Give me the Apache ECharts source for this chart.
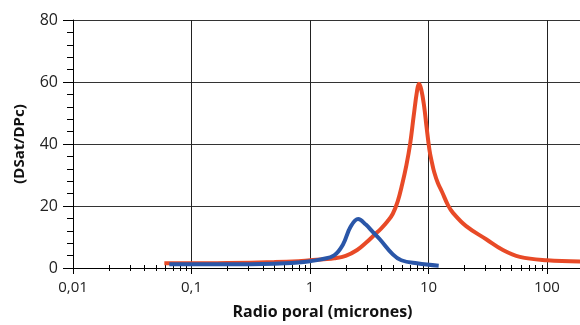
<!DOCTYPE html>
<html>
<head>
<meta charset="utf-8">
<script src="https://cdn.jsdelivr.net/npm/echarts@6/dist/echarts.min.js"></script>
<style>
html,body{margin:0;padding:0;background:#fff;}
#c{width:580px;height:325px;}
</style>
</head>
<body>
<div id="c"></div>
<script>
// Red series (radio poral in micrones, DSat/DPc)
const redX = [0.059, 0.1, 0.2, 0.5, 0.8, 1.0, 1.3, 1.6, 2.0, 2.5, 3.0, 3.5, 4.0, 4.5, 5.0, 5.5, 6.0, 6.5, 7.0, 7.5, 8.0, 8.3, 8.7, 9.2, 9.6, 10.2, 10.7, 11.2, 12.0, 13.0, 14.6, 16.1, 20.8, 30.9, 42.5, 59, 100, 190];
const redY = [1.5, 1.5, 1.6, 1.9, 2.2, 2.5, 2.8, 3.1, 3.9, 5.8, 8.3, 10.7, 12.8, 15.0, 17.5, 21.5, 27.0, 33.0, 40.0, 49.0, 57.0, 59.4, 57.5, 52.0, 46.0, 38.0, 34.0, 30.8, 27.4, 24.6, 20.3, 17.8, 13.5, 9.2, 5.8, 3.6, 2.5, 2.1];
// Blue series
const blueX = [0.065, 0.1, 0.2, 0.5, 0.8, 1.0, 1.24, 1.6, 1.9, 2.2, 2.55, 2.96, 3.4, 3.9, 5.0, 5.9, 8.0, 12.2];
const blueY = [1.2, 1.2, 1.2, 1.4, 1.8, 2.2, 2.8, 4.1, 7.6, 13.3, 15.8, 14.0, 11.6, 9.2, 4.4, 2.5, 1.5, 0.7];
// Axes
const xMin = 0.01, xMax = 190;
const yTicks = [0, 20, 40, 60, 80];
const minorXTicks = [0.02,0.03,0.04,0.05,0.06,0.07,0.08,0.09, 0.2,0.3,0.4,0.5,0.6,0.7,0.8,0.9, 2,3,4,5,6,7,8,9, 20,30,40,50,60,70,80,90];

const zip = (xs, ys) => xs.map((x, i) => [x, ys[i]]);
const FONT = 'Open Sans';

const chart = echarts.init(document.getElementById('c'), null, {renderer: 'canvas'});
chart.setOption({
  animation: false,
  backgroundColor: '#fff',
  grid: {left: 73, right: 0, top: 20, bottom: 56, containLabel: false},
  xAxis: {
    type: 'log', logBase: 10, min: xMin, max: xMax,
    name: 'Radio poral (micrones)', nameLocation: 'middle', nameGap: 36,
    nameTextStyle: {fontFamily: FONT, fontWeight: 'bold', fontSize: 16, color: '#111', padding: [0, 8, 0, 0]},
    axisLine: {show: true, lineStyle: {color: '#000', width: 1}},
    axisTick: {show: true, length: 6, lineStyle: {color: '#000'}},
    axisLabel: {
      fontFamily: FONT, fontSize: 15, color: '#222', margin: 12, showMaxLabel: false,
      formatter: v => {
        const l = Math.log10(v);
        if (Math.abs(l - Math.round(l)) > 1e-6) return '';
        return String(Number(v.toPrecision(6))).replace('.', ',');
      }
    },
    splitLine: {show: true, lineStyle: {color: '#222', width: 1}},
    minorTick: {show: false}
  },
  yAxis: {
    type: 'value', min: yTicks[0], max: yTicks[yTicks.length - 1], interval: 20,
    name: '(DSat/DPc)', nameLocation: 'middle', nameGap: 46,
    nameTextStyle: {fontFamily: FONT, fontWeight: 'bold', fontSize: 15, color: '#111'},
    axisLine: {show: true, lineStyle: {color: '#000', width: 1}},
    axisTick: {show: true, length: 10, lineStyle: {color: '#000'}},
    minorTick: {show: true, splitNumber: 5, length: 6, lineStyle: {color: '#000'}},
    axisLabel: {fontFamily: FONT, fontSize: 16, color: '#222', margin: 15},
    splitLine: {show: true, lineStyle: {color: '#333', width: 1}}
  },
  series: [
    {
      type: 'custom', silent: true, z: 3,
      data: minorXTicks.map(v => [v, 0]),
      renderItem: (params, api) => {
        const p = api.coord([api.value(0), api.value(1)]);
        return {type: 'line', shape: {x1: Math.round(p[0]) + 0.5, y1: p[1] - 3, x2: Math.round(p[0]) + 0.5, y2: p[1] + 3},
                style: {stroke: '#000', lineWidth: 1}};
      }
    },
    {
      type: 'line', data: zip(redX, redY), smooth: 0.4, showSymbol: false, z: 4,
      lineStyle: {color: '#E84A27', width: 4}
    },
    {
      type: 'line', data: zip(blueX, blueY), smooth: 0.4, showSymbol: false, z: 5,
      lineStyle: {color: '#2A56A8', width: 4}
    }
  ]
});
</script>
</body>
</html>
